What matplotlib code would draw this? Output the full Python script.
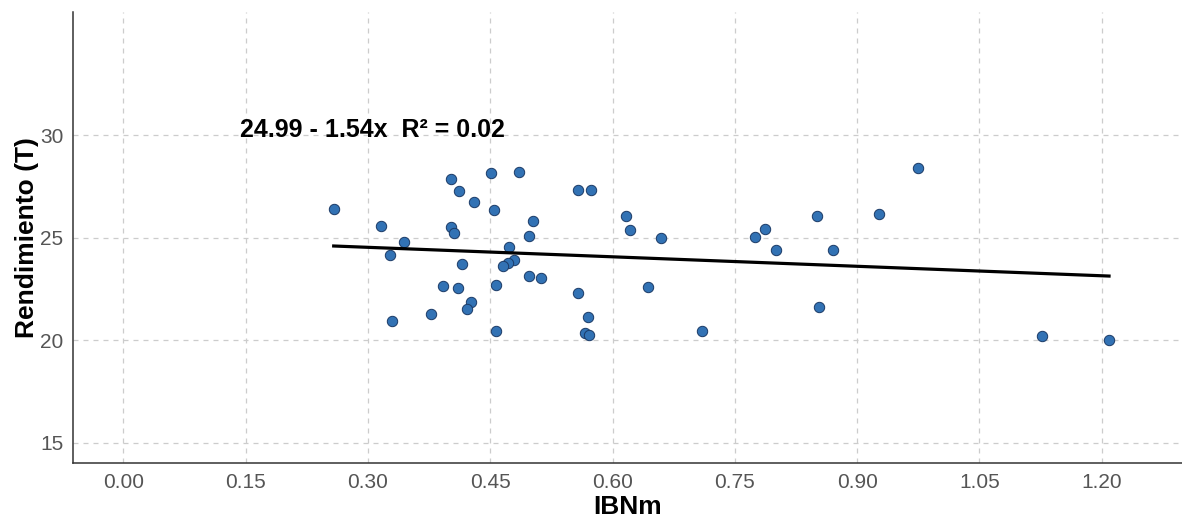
import matplotlib
matplotlib.use("Agg")
from matplotlib import pyplot as plt
import numpy as np

# IBNm values
ibnm = [0.258, 0.316, 0.344, 0.327, 0.330, 0.402, 0.412, 0.430, 0.402, 0.405,
        0.415, 0.392, 0.411, 0.427, 0.422, 0.377, 0.451, 0.485, 0.455, 0.502,
        0.498, 0.473, 0.479, 0.472, 0.466, 0.498, 0.512, 0.457, 0.457, 0.558,
        0.573, 0.558, 0.570, 0.566, 0.571, 0.616, 0.622, 0.659, 0.644, 0.710,
        0.775, 0.787, 0.801, 0.851, 0.871, 0.853, 0.927, 0.975, 1.127, 1.209]
# Rendimiento (T)
rend = [26.41, 25.55, 24.77, 24.16, 20.94, 27.87, 27.27, 26.75, 25.52, 25.23,
        23.72, 22.66, 22.53, 21.88, 21.52, 21.28, 28.13, 28.20, 26.35, 25.83,
        25.10, 24.56, 23.93, 23.75, 23.63, 23.13, 23.05, 22.71, 20.47, 27.34,
        27.34, 22.32, 21.15, 20.37, 20.24, 26.04, 25.37, 24.97, 22.61, 20.47,
        25.02, 25.42, 24.38, 26.04, 24.38, 21.62, 26.17, 28.41, 20.22, 20.00]

# fitted line as printed on the chart
intercept = 24.99
slope = -1.54
r2 = 0.02

xticks = [0.00, 0.15, 0.30, 0.45, 0.60, 0.75, 0.90, 1.05, 1.20]
yticks = [15, 20, 25, 30]

plt.rcParams['font.family'] = ['Liberation Sans', 'DejaVu Sans']

fig = plt.figure(figsize=(11.82, 5.24), dpi=100)
ax = fig.add_axes([0.0618, 0.1164, 0.9382, 0.8606])

x = np.array(ibnm)
y = np.array(rend)

ax.scatter(x, y, s=56, color='#3272B4', edgecolors='#1B3A66', linewidths=0.7, zorder=3)

# regression line over the data range
xl = np.array([x.min(), x.max()])
ax.plot(xl, intercept + slope * xl, color='black', linewidth=2.3, zorder=4)

ax.text(0.143, 30.24, f'{intercept:.2f} - {abs(slope):.2f}x  R\u00b2 = {r2:.2f}',
        fontsize=18, fontweight='bold', ha='left', va='center', zorder=5)

ax.set_xlim(-0.0617, 1.2985)
ax.set_ylim(14.02, 35.99)
ax.set_xticks(xticks)
ax.set_xticklabels([f'{v:.2f}' for v in xticks])
ax.set_yticks(yticks)

ax.grid(True, color='#CCCCCC', linestyle=(0, (4, 4)), linewidth=0.9)
ax.set_axisbelow(True)

for side in ['top', 'right']:
    ax.spines[side].set_visible(False)
for side in ['left', 'bottom']:
    ax.spines[side].set_color('#333333')
    ax.spines[side].set_linewidth(1.1)

ax.tick_params(length=0, labelsize=15, labelcolor='#555555', pad=7)

ax.set_xlabel('IBNm', fontsize=19, fontweight='bold', labelpad=2)
ax.set_ylabel('Rendimiento (T)', fontsize=19, fontweight='bold', labelpad=1)

fig.savefig('out.png', dpi=100)
